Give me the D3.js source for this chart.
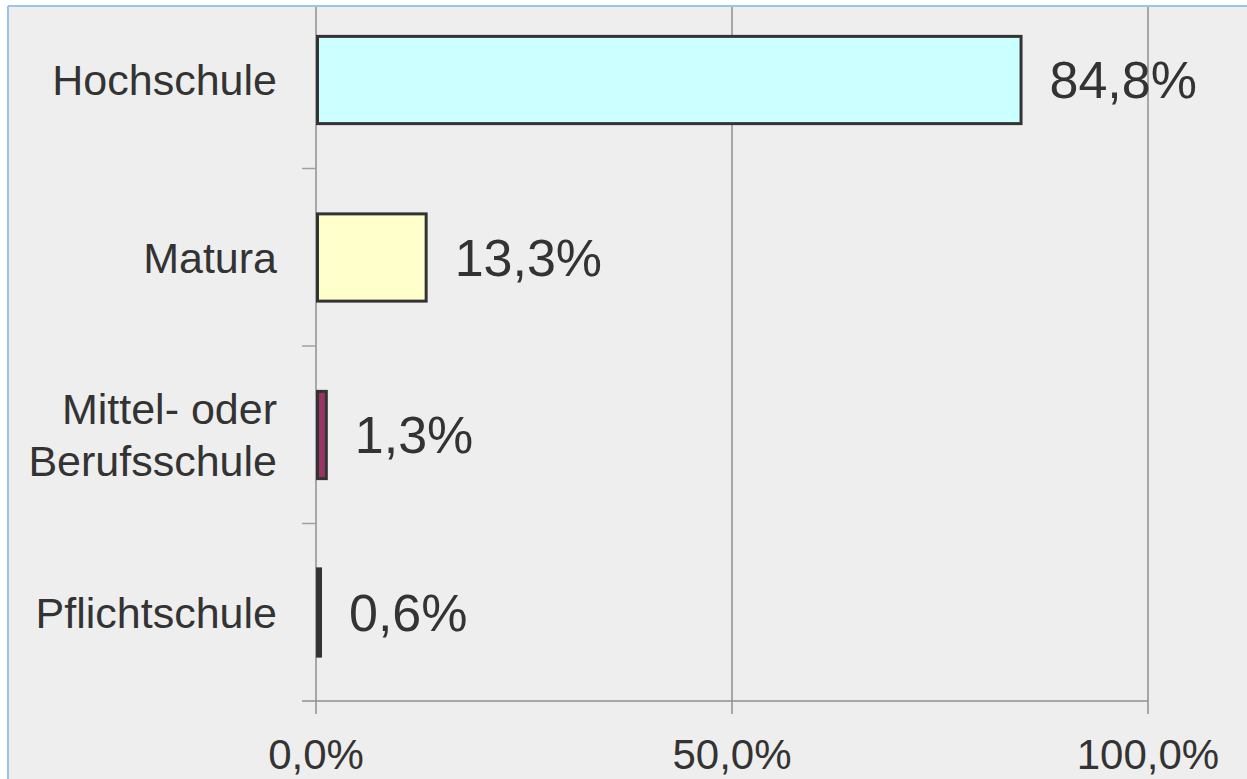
<html>
<head>
  <meta charset="utf-8">
  <script src="https://d3js.org/d3.v7.min.js"></script>
  <style>
    body { margin: 0; background: white; }
    text { font-family: "Liberation Sans", Arial, sans-serif; fill: #333; }
  </style>
</head>
<body>
  <div id="chart"></div>
  <script>
    // data
    var categories = ["Hochschule", "Matura", "Mittel- oder\nBerufsschule", "Pflichtschule"];
    var values = [84.8, 13.3, 1.3, 0.6];
    var valueLabels = ["84,8%", "13,3%", "1,3%", "0,6%"];
    var barColors = ["#ccffff", "#ffffcc", "#993366", "#333366"];
    var tickValues = [0, 50, 100];
    var tickLabels = ["0,0%", "50,0%", "100,0%"];

    var width = 1247, height = 779;
    var frameX = 8, frameY = 6;

    var svg = d3.select("#chart").append("svg")
      .attr("width", width)
      .attr("height", height);

    svg.append("rect")
      .attr("x", frameX).attr("y", frameY)
      .attr("width", width - frameX).attr("height", height - frameY)
      .attr("fill", "#eeeeee");

    svg.append("clipPath").attr("id", "clip")
      .append("rect")
      .attr("x", frameX).attr("y", frameY)
      .attr("width", width - frameX).attr("height", height - frameY);

    var g = svg.append("g").attr("clip-path", "url(#clip)");

    var x = d3.scaleLinear().domain([0, 100]).range([316, 1148]);
    var y = d3.scaleBand().domain(categories).range([-9, 701])
      .paddingInner(0.5).paddingOuter(0.25);

    var gridCol = "#8f8f8f";

    // vertical grid lines incl. tick below axis
    g.selectAll(".grid").data(tickValues).enter().append("line")
      .attr("x1", function (d) { return x(d); })
      .attr("x2", function (d) { return x(d); })
      .attr("y1", frameY).attr("y2", 714)
      .attr("stroke", gridCol).attr("stroke-width", 1.5);

    // horizontal axis line
    g.append("line")
      .attr("x1", 302).attr("x2", x(100))
      .attr("y1", 701).attr("y2", 701)
      .attr("stroke", gridCol).attr("stroke-width", 1.5);

    // category separator ticks
    var bounds = categories.slice(1).map(function (c) { return y(c) - y.step() * y.paddingInner() / 2; });
    g.selectAll(".ytick").data(bounds).enter().append("line")
      .attr("x1", 302).attr("x2", x(0))
      .attr("y1", function (d) { return d; })
      .attr("y2", function (d) { return d; })
      .attr("stroke", "#a0a0a0").attr("stroke-width", 1.5);

    // bars
    g.selectAll(".bar").data(values).enter().append("rect")
      .attr("x", x(0) + 1.5)
      .attr("y", function (d, i) { return y(categories[i]) + 1; })
      .attr("width", function (d) { return Math.max(x(d) - x(0) - 2, 0.5); })
      .attr("height", y.bandwidth() - 1.5)
      .attr("fill", function (d, i) { return barColors[i]; })
      .attr("stroke", "#333")
      .attr("stroke-width", 3);

    // value labels
    g.selectAll(".val").data(values).enter().append("text")
      .attr("x", function (d) { return x(d) + 28; })
      .attr("y", function (d, i) { return y(categories[i]) + y.bandwidth() / 2; })
      .attr("dy", "0.36em")
      .style("font-size", "52px")
      .text(function (d, i) { return valueLabels[i]; });

    // category labels
    categories.forEach(function (c) {
      var lines = c.split("\n");
      var cy = y(c) + y.bandwidth() / 2;
      var lh = 52;
      var t = g.append("text")
        .attr("text-anchor", "end")
        .style("font-size", "43px");
      lines.forEach(function (l, j) {
        t.append("tspan")
          .attr("x", 277)
          .attr("y", cy + (j - (lines.length - 1) / 2) * lh)
          .attr("dy", "0.36em")
          .text(l);
      });
    });

    // x tick labels
    g.selectAll(".xlab").data(tickValues).enter().append("text")
      .attr("x", function (d) { return x(d); })
      .attr("y", 769)
      .attr("text-anchor", "middle")
      .style("font-size", "42px")
      .text(function (d, i) { return tickLabels[i]; });

    // frame lines
    svg.append("line")
      .attr("x1", frameX).attr("x2", width)
      .attr("y1", frameY).attr("y2", frameY)
      .attr("stroke", "#9cc3ea").attr("stroke-width", 2);
    svg.append("line")
      .attr("x1", frameX).attr("x2", frameX)
      .attr("y1", frameY).attr("y2", height)
      .attr("stroke", "#9cc3ea").attr("stroke-width", 2);
  </script>
</body>
</html>
